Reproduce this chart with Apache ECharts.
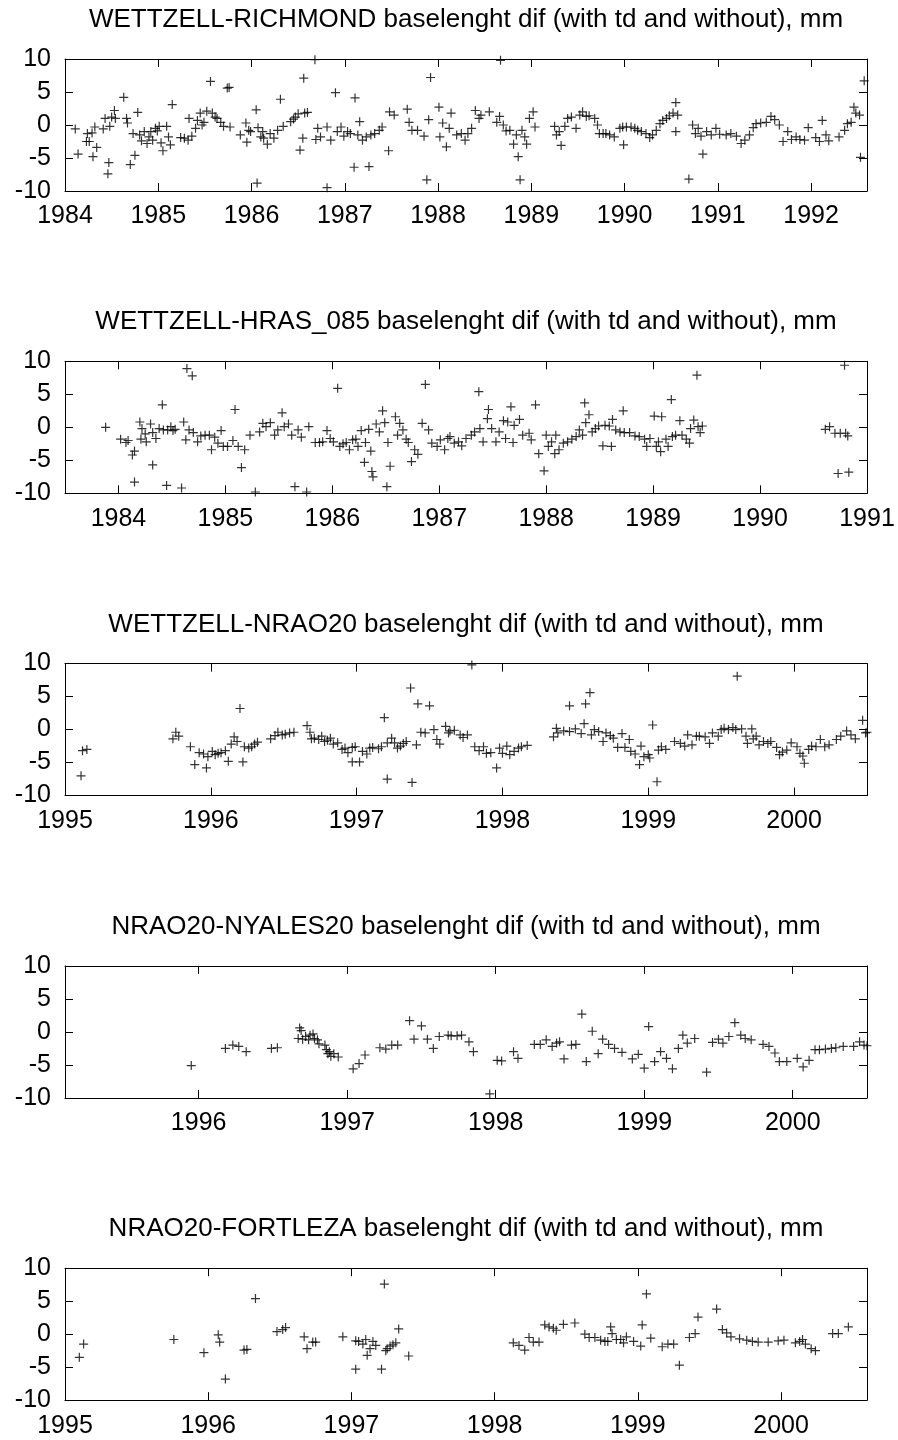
<!DOCTYPE html>
<html>
<head>
<meta charset="utf-8">
<script src="https://cdn.jsdelivr.net/npm/echarts@6/dist/echarts.min.js"></script>
<style>
  html, body { margin: 0; padding: 0; background: #fff; }
  #chart { width: 898px; height: 1440px; }
</style>
</head>
<body>
<div id="chart"></div>
<script>
// baseline length differences (mm): [year, value]
const titles = [
  "WETTZELL-RICHMOND baselenght dif (with td and without), mm",
  "WETTZELL-HRAS_085 baselenght dif (with td and without), mm",
  "WETTZELL-NRAO20 baselenght dif (with td and without), mm",
  "NRAO20-NYALES20 baselenght dif (with td and without), mm",
  "NRAO20-FORTLEZA baselenght dif (with td and without), mm"
];
const xRanges = [[1984, 1992.6], [1983.5, 1991], [1995, 2000.5], [1995.1, 2000.5], [1995, 2000.6]];
const yTicks = [-10, -5, 0, 5, 10];

const wettzellRichmond = [
  [1984.11,-0.6],[1984.14,-4.4],[1984.23,-2.5],[1984.24,-1.3],[1984.26,-2.5],[1984.29,-1.2],[1984.30,-4.8],
  [1984.32,-0.3],[1984.34,-3.4],[1984.41,-0.6],[1984.43,1.0],[1984.46,-7.4],[1984.47,-5.7],[1984.48,-0.2],
  [1984.50,1.2],[1984.53,2.2],[1984.54,1.0],[1984.63,4.2],[1984.66,1.0],[1984.67,0.3],[1984.70,-6.0],
  [1984.73,-1.3],[1984.75,-4.6],[1984.78,1.9],[1984.80,-1.5],[1984.82,-2.4],[1984.85,-1.0],[1984.88,-2.8],
  [1984.90,-1.8],[1984.92,-1.0],[1984.94,-2.3],[1984.97,-0.5],[1984.99,-0.9],[1985.01,-0.2],[1985.03,-2.7],
  [1985.05,-3.9],[1985.09,-0.2],[1985.11,-1.8],[1985.13,-3.0],[1985.15,3.1],[1985.24,-1.9],[1985.28,-2.0],
  [1985.32,-2.3],[1985.33,1.0],[1985.36,-1.7],[1985.40,-0.5],[1985.42,0.7],[1985.45,1.8],[1985.47,0.0],
  [1985.49,0.4],[1985.52,2.1],[1985.56,6.6],[1985.58,1.8],[1985.61,1.2],[1985.63,1.0],[1985.67,0.4],
  [1985.70,-0.2],[1985.74,5.6],[1985.76,5.7],[1985.77,-0.3],[1985.88,-1.5],[1985.94,0.3],[1985.95,-2.6],
  [1985.97,-0.8],[1985.99,-1.0],[1986.05,2.3],[1986.06,-8.8],[1986.07,-0.4],[1986.10,-1.8],[1986.12,-1.0],
  [1986.13,-2.0],[1986.17,-2.9],[1986.20,-1.3],[1986.24,-2.0],[1986.28,-0.8],[1986.31,3.9],[1986.34,-0.2],
  [1986.42,0.5],[1986.45,0.9],[1986.47,1.2],[1986.50,1.7],[1986.52,-3.8],[1986.55,-2.0],[1986.56,7.1],
  [1986.57,1.8],[1986.60,1.9],[1986.68,9.9],[1986.69,-2.2],[1986.71,-0.5],[1986.74,-1.8],[1986.81,-9.5],
  [1986.81,-0.3],[1986.85,-2.3],[1986.90,4.9],[1986.92,-1.0],[1986.96,-0.3],[1986.99,-1.7],[1987.03,-1.0],
  [1987.06,-1.3],[1987.10,-6.4],[1987.11,4.1],[1987.14,-1.5],[1987.16,0.5],[1987.19,-2.3],[1987.23,-1.8],
  [1987.26,-6.3],[1987.28,-1.5],[1987.32,-1.3],[1987.37,-0.8],[1987.40,-0.3],[1987.47,-3.9],[1987.48,2.0],
  [1987.53,1.5],[1987.67,2.4],[1987.69,0.4],[1987.72,-0.8],[1987.78,-0.8],[1987.85,-1.7],[1987.88,-8.3],
  [1987.90,0.8],[1987.92,7.2],[1988.01,2.7],[1988.02,-1.8],[1988.05,0.3],[1988.09,-3.3],[1988.12,-0.5],
  [1988.14,1.8],[1988.20,-1.5],[1988.25,-1.3],[1988.29,-2.3],[1988.32,-1.3],[1988.36,-0.5],[1988.40,2.2],
  [1988.44,1.0],[1988.46,1.5],[1988.55,2.0],[1988.63,0.4],[1988.66,1.3],[1988.67,9.8],[1988.70,0.0],
  [1988.73,-0.9],[1988.77,-0.8],[1988.81,-2.9],[1988.84,-1.5],[1988.86,-4.8],[1988.88,-8.3],[1988.90,-0.8],
  [1988.93,-1.8],[1988.95,-2.9],[1988.98,1.0],[1989.02,2.0],[1989.04,-0.3],[1989.25,-0.2],[1989.27,-1.5],
  [1989.30,-1.0],[1989.32,-3.1],[1989.36,-0.2],[1989.39,1.0],[1989.43,1.2],[1989.48,-0.5],[1989.52,1.5],
  [1989.55,2.0],[1989.59,1.3],[1989.62,1.4],[1989.68,1.0],[1989.71,0.0],[1989.73,-1.3],[1989.77,-1.3],
  [1989.80,-1.3],[1989.84,-1.5],[1989.89,-1.8],[1989.95,-0.5],[1989.98,-0.3],[1989.99,-3.0],[1990.02,-0.3],
  [1990.07,-0.3],[1990.11,-0.5],[1990.14,-0.8],[1990.18,-1.0],[1990.23,-1.3],[1990.27,-1.9],[1990.30,-1.5],
  [1990.34,-0.8],[1990.38,0.2],[1990.41,0.7],[1990.45,1.0],[1990.48,1.4],[1990.52,1.8],[1990.55,3.4],
  [1990.55,-1.0],[1990.57,1.5],[1990.69,-8.2],[1990.73,0.0],[1990.76,-1.3],[1990.79,-0.5],[1990.82,-1.7],
  [1990.84,-4.4],[1990.88,-1.0],[1990.93,-1.5],[1990.98,-0.5],[1991.02,-1.4],[1991.09,-1.5],[1991.14,-1.3],
  [1991.20,-1.7],[1991.25,-2.8],[1991.29,-2.3],[1991.34,-1.5],[1991.38,-0.4],[1991.41,0.2],[1991.46,0.3],
  [1991.52,0.4],[1991.57,1.3],[1991.61,0.8],[1991.66,0.0],[1991.70,-2.5],[1991.75,-1.0],[1991.79,-2.2],
  [1991.84,-1.8],[1991.88,-2.2],[1991.93,-2.3],[1991.97,-0.4],[1992.05,-1.9],[1992.09,-2.5],[1992.12,0.7],
  [1992.16,-1.5],[1992.19,-2.4],[1992.30,-1.8],[1992.36,-0.8],[1992.39,0.2],[1992.43,0.4],[1992.46,2.7],
  [1992.48,1.8],[1992.52,1.5],[1992.53,-4.9],[1992.57,6.7]
];

const wettzellHras = [
  [1983.88,0.0],[1984.02,-1.8],[1984.07,-2.3],[1984.09,-2.0],[1984.13,-4.2],[1984.15,-3.6],[1984.15,-8.3],
  [1984.20,0.8],[1984.21,-1.8],[1984.22,-0.2],[1984.25,-1.0],[1984.26,-2.2],[1984.30,0.5],[1984.32,-0.8],
  [1984.32,-5.7],[1984.35,-1.7],[1984.38,-0.2],[1984.41,3.4],[1984.42,-0.4],[1984.45,-8.8],[1984.46,-0.4],
  [1984.49,0.1],[1984.51,-0.5],[1984.53,-0.3],[1984.59,-9.2],[1984.61,0.8],[1984.63,-1.9],[1984.64,8.9],
  [1984.66,-0.4],[1984.69,7.8],[1984.70,-0.8],[1984.74,-2.2],[1984.77,-1.3],[1984.81,-1.2],[1984.85,-1.2],
  [1984.87,-3.4],[1984.90,-1.5],[1984.93,-2.4],[1984.96,-0.5],[1984.98,-2.9],[1985.02,-2.9],[1985.07,-2.0],
  [1985.09,2.7],[1985.12,-2.9],[1985.15,-6.1],[1985.18,-3.4],[1985.23,-1.2],[1985.28,-9.8],[1985.32,-0.7],
  [1985.35,0.6],[1985.38,0.1],[1985.42,0.7],[1985.46,-1.2],[1985.49,-0.4],[1985.53,2.2],[1985.55,0.1],
  [1985.59,0.5],[1985.62,-1.2],[1985.65,-9.0],[1985.68,-0.4],[1985.71,-1.5],[1985.76,-9.8],[1985.78,0.1],
  [1985.84,-2.3],[1985.88,-2.3],[1985.91,-2.2],[1985.95,-0.5],[1985.98,-1.7],[1986.01,-2.2],[1986.05,5.9],
  [1986.07,-2.9],[1986.10,-2.5],[1986.13,-2.3],[1986.16,-3.4],[1986.19,-1.9],[1986.22,-1.8],[1986.24,-2.9],
  [1986.27,-0.5],[1986.30,-5.3],[1986.31,-2.3],[1986.34,-0.3],[1986.36,-3.6],[1986.37,-6.7],[1986.38,-7.5],
  [1986.41,0.5],[1986.44,-0.7],[1986.47,2.5],[1986.49,0.7],[1986.51,-9.0],[1986.52,-2.3],[1986.54,-5.9],
  [1986.59,1.6],[1986.61,-1.2],[1986.63,0.6],[1986.66,-0.4],[1986.69,-1.8],[1986.71,-2.3],[1986.74,-5.2],
  [1986.77,-3.4],[1986.80,-4.1],[1986.84,0.6],[1986.87,6.5],[1986.90,-0.4],[1986.93,-2.4],[1986.98,-2.9],
  [1987.01,-1.9],[1987.05,-3.4],[1987.08,-1.7],[1987.10,-1.4],[1987.14,-2.4],[1987.18,-2.2],[1987.21,-2.8],
  [1987.25,-1.7],[1987.30,-1.2],[1987.33,-0.7],[1987.37,5.4],[1987.38,-0.2],[1987.41,-2.2],[1987.45,1.3],
  [1987.46,2.7],[1987.49,-0.2],[1987.53,-2.2],[1987.56,-0.7],[1987.60,1.0],[1987.62,-1.7],[1987.64,0.8],
  [1987.67,3.1],[1987.69,-2.3],[1987.70,0.3],[1987.75,1.2],[1987.78,-1.2],[1987.84,-0.9],[1987.86,-1.9],
  [1987.90,3.4],[1987.93,-4.0],[1987.98,-6.6],[1988.00,-1.2],[1988.02,-2.9],[1988.05,-2.2],[1988.08,-4.0],
  [1988.09,-1.2],[1988.12,-3.4],[1988.16,-2.4],[1988.20,-2.2],[1988.24,-1.8],[1988.28,-1.4],[1988.31,-0.4],
  [1988.34,-1.2],[1988.36,3.7],[1988.37,0.7],[1988.40,1.9],[1988.43,-0.7],[1988.46,-0.2],[1988.49,0.2],
  [1988.53,-2.8],[1988.55,0.3],[1988.59,0.2],[1988.61,-2.9],[1988.62,1.2],[1988.65,-0.4],[1988.69,-0.7],
  [1988.72,2.5],[1988.73,-0.8],[1988.78,-0.8],[1988.83,-1.3],[1988.87,-1.4],[1988.92,-1.8],[1988.94,-2.9],
  [1988.97,-1.7],[1989.01,1.7],[1989.03,-2.9],[1989.05,-2.2],[1989.07,-3.7],[1989.08,1.6],[1989.12,-1.8],
  [1989.14,-2.9],[1989.17,4.2],[1989.18,-1.4],[1989.21,-1.2],[1989.25,1.0],[1989.27,-1.2],[1989.31,-1.8],
  [1989.34,-2.4],[1989.35,-0.2],[1989.38,1.1],[1989.41,7.9],[1989.42,0.1],[1989.44,-0.8],[1989.46,0.2],
  [1990.61,-0.3],[1990.65,0.1],[1990.70,-0.9],[1990.73,-7.0],[1990.75,-0.9],[1990.79,9.4],[1990.80,-0.9],
  [1990.82,-1.3],[1990.83,-6.8]
];

const wettzellNrao = [
  [1995.11,-7.0],[1995.12,-3.2],[1995.15,-3.0],[1995.74,-1.4],[1995.76,-0.4],[1995.78,-1.0],[1995.86,-2.6],
  [1995.89,-5.3],[1995.92,-3.5],[1995.95,-3.7],[1995.97,-5.8],[1995.98,-4.1],[1996.01,-3.3],[1996.03,-3.8],
  [1996.05,-3.6],[1996.07,-3.5],[1996.10,-3.2],[1996.12,-4.8],[1996.14,-2.2],[1996.16,-1.1],[1996.18,-1.8],
  [1996.20,3.2],[1996.22,-4.9],[1996.23,-2.6],[1996.26,-2.8],[1996.28,-2.6],[1996.30,-2.2],[1996.32,-1.9],
  [1996.41,-1.4],[1996.44,-0.9],[1996.46,-0.4],[1996.49,-0.8],[1996.51,-0.7],[1996.54,-0.5],[1996.57,-0.4],
  [1996.66,0.6],[1996.68,-0.4],[1996.69,-1.4],[1996.71,-1.3],[1996.74,-1.5],[1996.76,-1.0],[1996.78,-1.8],
  [1996.80,-1.6],[1996.82,-1.3],[1996.84,-2.2],[1996.87,-2.0],[1996.90,-3.0],[1996.92,-2.8],[1996.94,-3.5],
  [1996.97,-2.7],[1996.97,-4.9],[1996.99,-2.6],[1997.02,-4.9],[1997.04,-3.3],[1997.07,-3.7],[1997.09,-2.8],
  [1997.11,-2.7],[1997.15,-2.9],[1997.17,-2.6],[1997.19,1.8],[1997.21,-2.0],[1997.21,-7.5],[1997.24,-1.3],
  [1997.26,-2.0],[1997.28,-2.8],[1997.30,-2.5],[1997.32,-2.1],[1997.34,-1.8],[1997.37,6.3],[1997.38,-8.0],
  [1997.41,-2.3],[1997.42,3.9],[1997.44,-0.4],[1997.47,-0.5],[1997.50,3.6],[1997.53,0.0],[1997.55,-1.5],
  [1997.57,-2.2],[1997.61,0.5],[1997.63,-0.5],[1997.64,-0.2],[1997.67,-0.1],[1997.71,-0.8],[1997.73,-1.2],
  [1997.76,-0.8],[1997.79,9.8],[1997.81,-2.6],[1997.84,-3.2],[1997.87,-2.6],[1997.89,-3.6],[1997.92,-3.5],
  [1997.96,-5.8],[1997.98,-2.8],[1998.00,-3.6],[1998.03,-2.5],[1998.05,-3.8],[1998.08,-3.3],[1998.11,-2.8],
  [1998.13,-2.6],[1998.17,-2.4],[1998.35,-1.1],[1998.37,0.2],[1998.38,-0.5],[1998.42,-0.2],[1998.46,3.6],
  [1998.46,-0.3],[1998.50,0.1],[1998.54,-0.6],[1998.56,0.9],[1998.57,3.9],[1998.60,5.6],[1998.61,-0.8],
  [1998.63,0.0],[1998.66,-0.3],[1998.69,-1.8],[1998.71,-0.5],[1998.74,-0.9],[1998.76,-1.3],[1998.79,-2.7],
  [1998.82,-0.6],[1998.84,-2.7],[1998.87,-1.5],[1998.88,-3.3],[1998.91,-3.7],[1998.94,-5.3],[1998.95,-2.5],
  [1998.97,-4.1],[1999.00,-3.8],[1999.01,-4.3],[1999.03,0.7],[1999.06,-7.9],[1999.07,-3.1],[1999.09,-2.6],
  [1999.12,-3.0],[1999.18,-1.8],[1999.22,-2.1],[1999.25,-2.5],[1999.27,-0.8],[1999.30,-2.3],[1999.33,-1.0],
  [1999.35,-1.0],[1999.39,-1.1],[1999.42,-2.1],[1999.44,-0.5],[1999.48,-1.0],[1999.50,0.0],[1999.52,0.2],
  [1999.55,0.0],[1999.58,0.3],[1999.60,0.0],[1999.61,8.1],[1999.64,0.1],[1999.67,-1.0],[1999.68,-2.1],
  [1999.71,0.1],[1999.72,-1.4],[1999.74,-1.0],[1999.76,-2.3],[1999.79,-1.8],[1999.82,-2.1],[1999.84,-1.8],
  [1999.88,-2.7],[1999.90,-3.8],[1999.92,-3.4],[1999.95,-3.1],[1999.98,-2.0],[2000.02,-2.6],[2000.04,-3.6],
  [2000.06,-4.0],[2000.07,-5.1],[2000.10,-3.0],[2000.12,-2.5],[2000.15,-2.6],[2000.18,-1.5],[2000.21,-2.6],
  [2000.24,-2.3],[2000.29,-1.5],[2000.32,-1.0],[2000.36,-0.2],[2000.39,-0.8],[2000.42,-1.4],[2000.47,1.4],
  [2000.49,-0.5],[2000.50,-0.4]
];

const nraoNyales = [
  [1995.95,-5.1],[1996.18,-2.5],[1996.23,-2.0],[1996.27,-2.2],[1996.32,-3.0],[1996.49,-2.5],[1996.53,-2.4],
  [1996.67,-1.0],[1996.68,0.6],[1996.69,0.2],[1996.70,-1.1],[1996.72,-0.7],[1996.74,-1.2],[1996.75,-0.5],
  [1996.77,-0.3],[1996.78,-1.0],[1996.80,-1.2],[1996.81,-1.8],[1996.85,-2.0],[1996.86,-2.7],[1996.87,-3.3],
  [1996.88,-3.0],[1996.89,-3.7],[1996.91,-3.3],[1996.94,-3.8],[1997.04,-5.6],[1997.08,-4.8],[1997.12,-3.5],
  [1997.22,-2.4],[1997.26,-2.6],[1997.30,-2.0],[1997.34,-2.0],[1997.42,1.7],[1997.45,-1.1],[1997.50,0.9],
  [1997.54,-1.1],[1997.58,-2.5],[1997.62,-0.7],[1997.68,-0.5],[1997.70,-0.6],[1997.74,-0.6],[1997.77,-0.5],
  [1997.82,-1.5],[1997.85,-3.0],[1997.96,-9.4],[1998.01,-4.3],[1998.04,-4.4],[1998.12,-3.0],[1998.15,-4.0],
  [1998.26,-1.9],[1998.30,-1.9],[1998.34,-1.2],[1998.38,-2.2],[1998.41,-1.7],[1998.43,-1.5],[1998.46,-4.1],
  [1998.51,-2.0],[1998.54,-1.9],[1998.58,2.7],[1998.61,-4.5],[1998.65,0.1],[1998.69,-3.3],[1998.72,-1.1],
  [1998.76,-1.9],[1998.80,-2.5],[1998.85,-3.1],[1998.92,-4.1],[1998.96,-3.4],[1999.00,-5.5],[1999.03,0.8],
  [1999.07,-4.5],[1999.11,-3.0],[1999.15,-4.0],[1999.19,-5.6],[1999.23,-2.5],[1999.26,-0.5],[1999.29,-1.7],
  [1999.34,-1.0],[1999.42,-6.1],[1999.46,-1.6],[1999.50,-1.1],[1999.53,-1.7],[1999.57,-0.7],[1999.61,1.4],
  [1999.65,-0.5],[1999.68,-1.0],[1999.72,-1.2],[1999.80,-1.9],[1999.84,-2.2],[1999.88,-3.2],[1999.91,-4.5],
  [1999.96,-4.5],[2000.03,-4.0],[2000.07,-5.3],[2000.11,-4.3],[2000.15,-2.7],[2000.18,-2.7],[2000.22,-2.6],
  [2000.26,-2.5],[2000.29,-2.4],[2000.34,-2.2],[2000.41,-2.2],[2000.45,-1.5],[2000.48,-2.0],[2000.50,-2.1]
];

const nraoFortleza = [
  [1995.10,-3.5],[1995.13,-1.5],[1995.76,-0.8],[1995.97,-2.8],[1996.07,-0.1],[1996.08,-1.2],[1996.12,-6.8],
  [1996.25,-2.4],[1996.27,-2.3],[1996.33,5.4],[1996.48,0.4],[1996.52,0.7],[1996.54,1.0],[1996.67,-0.4],
  [1996.69,-2.2],[1996.73,-1.2],[1996.75,-1.2],[1996.94,-0.4],[1997.03,-5.3],[1997.03,-1.0],[1997.05,-1.1],
  [1997.08,-1.5],[1997.10,-0.8],[1997.11,-3.2],[1997.13,-2.2],[1997.15,-1.1],[1997.17,-1.7],[1997.21,-5.3],
  [1997.23,7.6],[1997.24,-2.5],[1997.25,-2.2],[1997.27,-1.8],[1997.29,-1.6],[1997.31,-1.3],[1997.33,0.8],
  [1997.40,-3.3],[1998.13,-1.3],[1998.17,-1.7],[1998.21,-2.4],[1998.24,-0.5],[1998.27,-1.2],[1998.31,-1.2],
  [1998.35,1.4],[1998.38,1.1],[1998.41,0.9],[1998.43,0.6],[1998.48,1.5],[1998.56,1.7],[1998.63,0.0],
  [1998.66,-0.5],[1998.70,-0.5],[1998.74,-0.9],[1998.77,-1.1],[1998.79,-1.1],[1998.81,1.1],[1998.82,0.1],
  [1998.85,-0.8],[1998.88,-0.8],[1998.90,-1.3],[1998.92,-0.4],[1998.97,-1.1],[1999.02,-1.8],[1999.03,1.4],
  [1999.06,6.1],[1999.09,-0.6],[1999.17,-1.9],[1999.21,-1.5],[1999.25,-1.5],[1999.29,-4.7],[1999.36,-0.5],
  [1999.40,0.1],[1999.42,2.6],[1999.55,3.8],[1999.59,0.7],[1999.62,0.2],[1999.65,-0.4],[1999.71,-0.7],
  [1999.76,-0.9],[1999.80,-1.1],[1999.84,-1.2],[1999.91,-1.2],[1999.98,-1.0],[2000.02,-0.9],[2000.10,-1.3],
  [2000.13,-1.1],[2000.15,-0.8],[2000.17,-1.5],[2000.21,-2.2],[2000.24,-2.5],[2000.36,0.1],[2000.40,0.1],
  [2000.47,1.1]
];

const panelData = [wettzellRichmond, wettzellHras, wettzellNrao, nraoNyales, nraoFortleza];

const FONT = "Liberation Sans";
const PLUS = "path://M3.9,0H5.1V3.9H9V5.1H5.1V9H3.9V5.1H0V3.9H3.9Z";
const PLOT_LEFT = 65;
const PLOT_WIDTH = 802;
const PLOT_HEIGHT = 132;
const FIRST_TOP = 59;
const PITCH = 302.3;

function yearTicks(range) {
  const out = [];
  for (let y = Math.ceil(range[0] - 1e-9); y <= range[1] + 1e-9; y += 1) out.push(y);
  return out;
}

const grids = [];
const xAxes = [];
const yAxes = [];
const series = [];
const graphics = [];
const line = { color: "#000", width: 1 };
const labelStyle = { fontFamily: FONT, fontSize: 25, color: "#000" };

panelData.forEach((data, i) => {
  const top = FIRST_TOP + i * PITCH;
  const years = yearTicks(xRanges[i]);
  grids.push({ left: PLOT_LEFT, top, width: PLOT_WIDTH, height: PLOT_HEIGHT, containLabel: false });

  ["bottom", "top"].forEach((pos) => {
    xAxes.push({
      gridIndex: i,
      type: "value",
      position: pos,
      min: xRanges[i][0],
      max: xRanges[i][1],
      axisLine: { show: true, onZero: false, lineStyle: line },
      axisTick: { show: true, inside: true, length: 8, customValues: years, lineStyle: line },
      axisLabel: pos === "bottom"
        ? Object.assign({ show: true, margin: 13, customValues: years, formatter: (v) => String(v) }, labelStyle)
        : { show: false },
      splitLine: { show: false }
    });
  });

  ["left", "right"].forEach((pos) => {
    yAxes.push({
      gridIndex: i,
      type: "value",
      position: pos,
      min: yTicks[0],
      max: yTicks[yTicks.length - 1],
      interval: 5,
      axisLine: { show: true, onZero: false, lineStyle: line },
      axisTick: { show: true, inside: true, length: 8, lineStyle: line },
      axisLabel: pos === "left" ? Object.assign({ show: true, margin: 14 }, labelStyle) : { show: false },
      splitLine: { show: false }
    });
  });

  series.push({
    type: "scatter",
    xAxisIndex: 2 * i,
    yAxisIndex: 2 * i,
    data,
    symbol: PLUS,
    symbolSize: 9,
    itemStyle: { color: "#000" },
    clip: false,
    silent: true
  });

  graphics.push({
    type: "text",
    x: PLOT_LEFT + PLOT_WIDTH / 2,
    y: top - 39,
    style: {
      text: titles[i],
      fontFamily: FONT,
      fontSize: 26,
      fill: "#000",
      align: "center",
      verticalAlign: "middle",
      textAlign: "center",
      textVerticalAlign: "middle"
    }
  });
});

const chart = echarts.init(document.getElementById("chart"));
chart.setOption({
  animation: false,
  backgroundColor: "#fff",
  grid: grids,
  xAxis: xAxes,
  yAxis: yAxes,
  series,
  graphic: graphics
});
</script>
</body>
</html>
